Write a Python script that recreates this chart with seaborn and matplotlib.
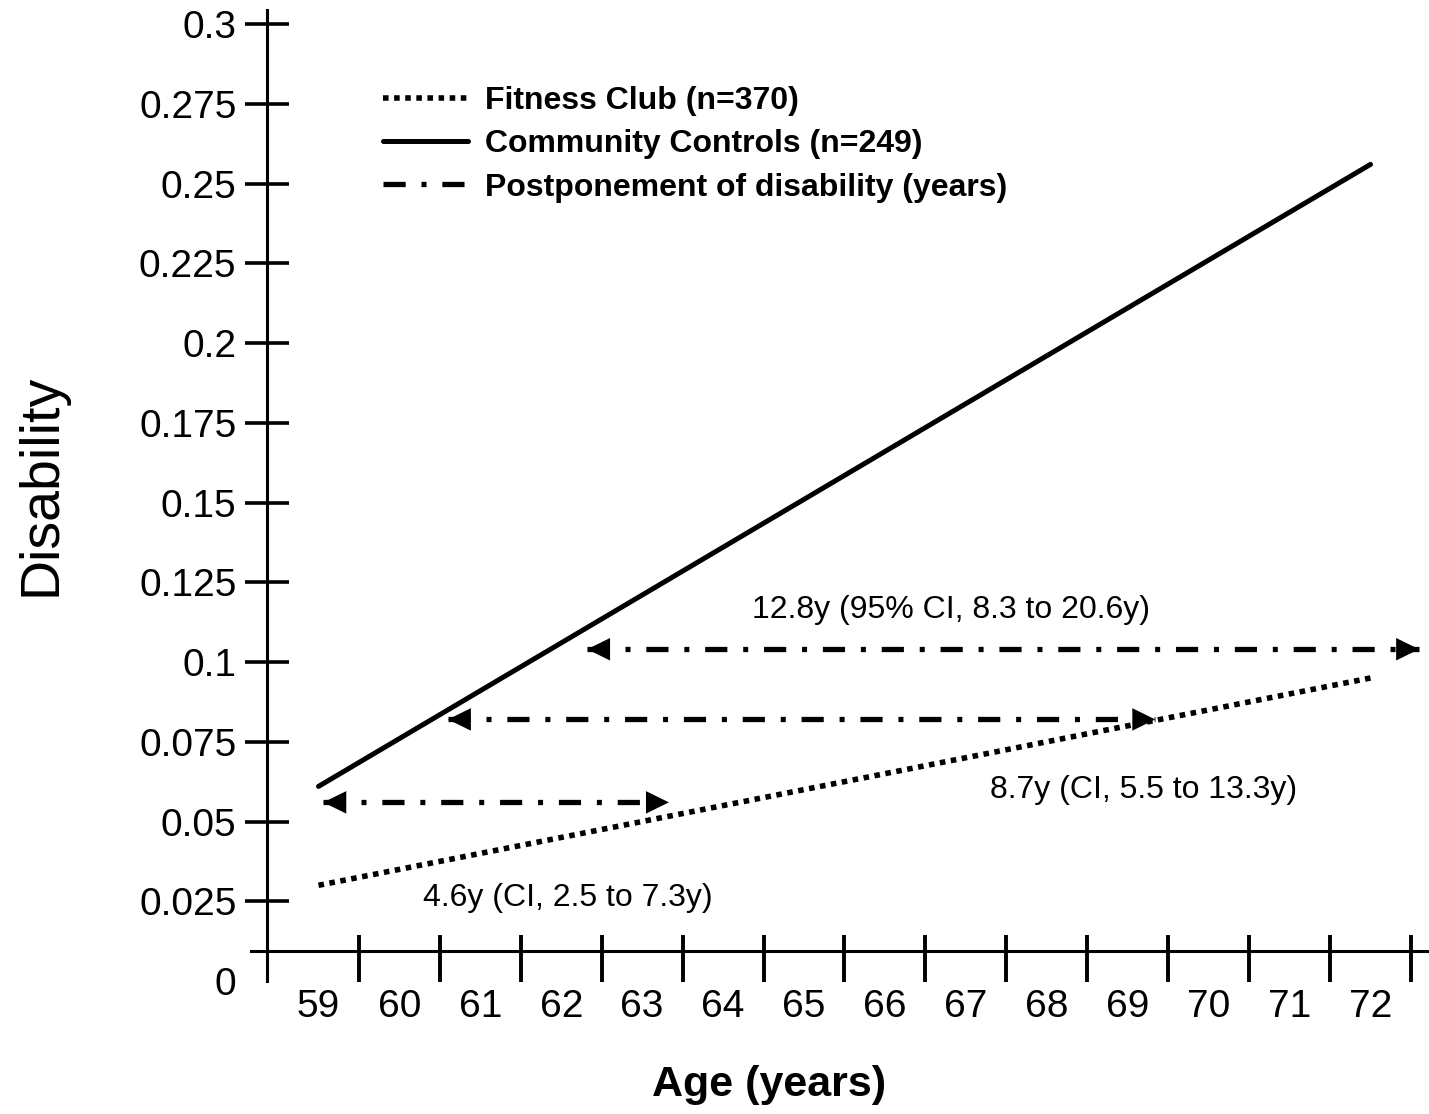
import numpy as np
import pandas as pd
import matplotlib
matplotlib.use('Agg')
import matplotlib.pyplot as plt
from matplotlib.ticker import FuncFormatter
import seaborn as sns

# ─────────────────────────────────────────
# DATA
# ─────────────────────────────────────────
ages = [59, 72]
fitness_club = [0.030, 0.095]
community_controls = [0.061, 0.256]

age_labels = list(range(59, 73))
y_ticks = [0, 0.025, 0.05, 0.075, 0.1, 0.125, 0.15, 0.175, 0.2, 0.225, 0.25, 0.275, 0.3]

# postponement of disability arrows
arrow_start = [59.06, 60.60, 62.32]
arrow_end = [63.33, 69.34, 72.60]
arrow_level = [0.056, 0.082, 0.104]
arrow_text = ['4.6y (CI, 2.5 to 7.3y)',
              '8.7y (CI, 5.5 to 13.3y)',
              '12.8y (95% CI, 8.3 to 20.6y)']

series_labels = ['Fitness Club (n=370)',
                 'Community Controls (n=249)',
                 'Postponement of disability (years)']
# ─────────────────────────────────────────

sns.set_style('white')
plt.rcParams['font.family'] = ['Liberation Sans', 'DejaVu Sans']
plt.rcParams['text.color'] = 'black'
plt.rcParams['axes.labelcolor'] = 'black'
plt.rcParams['xtick.color'] = 'black'
plt.rcParams['ytick.color'] = 'black'

DASHDOT = (0, (4.2, 3.0, 0.95, 3.0))
X_CROSS = 0.0094          # where the age axis crosses the disability axis
Y_TOP = 0.3044
Y_AXIS_AT = 58.364        # where the disability axis sits on the age scale

fig = plt.figure(figsize=(14.29, 11.14), dpi=100)
ax = fig.add_axes([0.17565, 0.11939, 0.82435, 0.87163])

df = pd.DataFrame({'age': ages, 'fitness': fitness_club, 'community': community_controls})
sns.lineplot(data=df, x='age', y='fitness', ax=ax, color='black', lw=4.0,
             linestyle=(0, (1, 1)), label=series_labels[0])
sns.lineplot(data=df, x='age', y='community', ax=ax, color='black', lw=3.6,
             label=series_labels[1])

for i, (s, e, lvl) in enumerate(zip(arrow_start, arrow_end, arrow_level)):
    ax.plot([s, e], [lvl, lvl], color='black', lw=3.8, linestyle=DASHDOT,
            label=series_labels[2] if i == 0 else None)
    ax.annotate('', xy=(e, lvl), xytext=(s, lvl),
                arrowprops=dict(arrowstyle='<|-|>,head_length=0.55,head_width=0.27',
                                color='black', lw=0, mutation_scale=30,
                                shrinkA=0, shrinkB=0))

text_pos = [(62.08, 0.026), (69.20, 0.060), (66.82, 0.1163)]
for (tx, ty), t in zip(text_pos, arrow_text):
    ax.text(tx, ty, t, fontsize=23, ha='center', va='center')

# axes
ax.set_xlim(58.166, 72.723)
ax.set_ylim(0, Y_TOP)
ax.spines['top'].set_visible(False)
ax.spines['right'].set_visible(False)
ax.spines['left'].set_position(('data', Y_AXIS_AT))
ax.spines['bottom'].set_position(('data', X_CROSS))
for sp in ('left', 'bottom'):
    ax.spines[sp].set_linewidth(2.2)
    ax.spines[sp].set_color('black')

ax.set_yticks(y_ticks)
ax.yaxis.set_major_formatter(FuncFormatter(lambda v, p: f'{v:g}'))
ax.tick_params(axis='y', direction='inout', length=32, width=2.6, pad=6,
               labelsize=28, left=True)
# no tick mark at zero, only its label
ax.yaxis.get_major_ticks()[0].tick1line.set_visible(False)

ax.set_xticks(age_labels)
ax.set_xticklabels([str(a) for a in age_labels])
ax.set_xticks([a + 0.5 for a in age_labels], minor=True)
ax.tick_params(axis='x', which='major', length=0, pad=27, labelsize=28)
ax.tick_params(axis='x', which='minor', direction='out', length=22, width=2.8,
               bottom=True)

sec = ax.secondary_xaxis(X_CROSS / Y_TOP)
sec.set_xticks([a + 0.5 for a in age_labels])
sec.tick_params(axis='x', direction='in', length=11.5, width=2.8, labelbottom=False)
sec.spines['bottom'].set_visible(False)

ax.set_ylabel('Disability', fontsize=40)
ax.yaxis.set_label_coords(-0.156, 0.511)
ax.set_xlabel('Age (years)', fontsize=31, fontweight='bold')
ax.xaxis.set_label_coords(0.44, -0.086)

leg = ax.legend(loc='upper left', bbox_to_anchor=(0.112, 0.922), frameon=False,
                borderaxespad=0, borderpad=0, handlelength=2.65, handletextpad=0.55,
                labelspacing=0.42, prop={'size': 23, 'weight': 'bold'})

fig.savefig('out.png', dpi=100)
